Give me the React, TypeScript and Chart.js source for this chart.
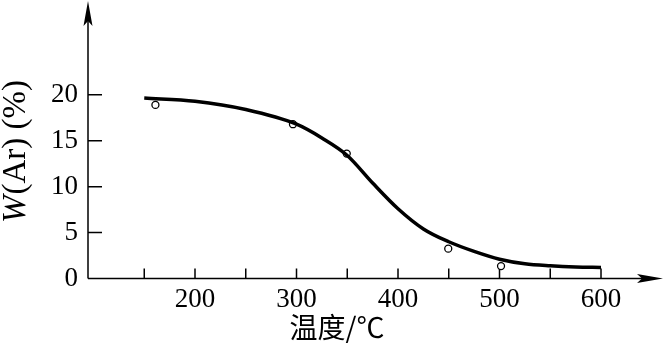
import React, { useEffect, useRef } from 'react';
import { Chart, registerables } from 'chart.js';

Chart.register(...registerables);

// Fitted curve (temperature °C -> W(Ar) %)
const curveTemps = [150, 200, 250, 300, 325, 350, 375, 400, 425, 450, 475, 500, 525, 550, 575, 600];
const curveValues = [19.65, 19.3, 18.4, 16.8, 15.3, 13.4, 10.4, 7.6, 5.4, 4.0, 2.95, 2.1, 1.6, 1.38, 1.25, 1.2];

// Measured points
const pointTemps = [161, 296.5, 349.5, 449.5, 501.5];
const pointValues = [18.9, 16.8, 13.6, 3.25, 1.35];

// Axes
const xTickValues = [150, 200, 250, 300, 350, 400, 450, 500, 550, 600];
const xLabelValues = [200, 300, 400, 500, 600];
const yTickValues = [0, 5, 10, 15, 20];
const xMin = 94.58;
const xMax = 662.06;
const yMin = 0;
const yMax = 30;

const xTitle = '温度/℃';
const yTitleItalic = 'W';
const yTitleRest = '(Ar) (%)';

const SERIF = '"Liberation Serif", "Times New Roman", serif';
const CJK = '"Noto Sans CJK SC", sans-serif';

const axesPlugin = {
  id: 'customAxes',
  beforeDatasetsDraw(chart: any) {
    const ctx = chart.ctx as CanvasRenderingContext2D;
    const xs = chart.scales.x;
    const ys = chart.scales.y;
    const ax = xs.getPixelForValue(xMin);
    const y0 = ys.getPixelForValue(0);
    const topY = chart.chartArea.top - 2;
    const rightX = chart.chartArea.right - 1;
    ctx.save();
    ctx.strokeStyle = '#000';
    ctx.fillStyle = '#000';
    ctx.lineWidth = 1.5;
    ctx.beginPath();
    ctx.moveTo(ax, y0);
    ctx.lineTo(ax, topY + 10);
    ctx.moveTo(ax, y0);
    ctx.lineTo(rightX - 10, y0);
    ctx.stroke();
    // y arrow
    ctx.beginPath();
    ctx.moveTo(ax, topY);
    ctx.lineTo(ax - 4.5, topY + 25);
    ctx.lineTo(ax, topY + 20);
    ctx.lineTo(ax + 4.5, topY + 25);
    ctx.closePath();
    ctx.fill();
    // x arrow
    ctx.beginPath();
    ctx.moveTo(rightX, y0);
    ctx.lineTo(rightX - 26, y0 - 4.5);
    ctx.lineTo(rightX - 21, y0);
    ctx.lineTo(rightX - 26, y0 + 4.5);
    ctx.closePath();
    ctx.fill();
    // inward ticks
    ctx.beginPath();
    for (const v of xTickValues) {
      const px = xs.getPixelForValue(v);
      ctx.moveTo(px, y0);
      ctx.lineTo(px, y0 - 10);
    }
    for (const v of yTickValues) {
      if (v === 0) continue;
      const py = ys.getPixelForValue(v);
      ctx.moveTo(ax, py);
      ctx.lineTo(ax + 14, py);
    }
    ctx.stroke();
    ctx.restore();
  },
  afterDraw(chart: any) {
    const ctx = chart.ctx as CanvasRenderingContext2D;
    ctx.save();
    ctx.fillStyle = '#000';
    ctx.font = `28px ${CJK}`;
    ctx.textAlign = 'center';
    ctx.textBaseline = 'middle';
    ctx.fillText(xTitle, 337, 327);
    ctx.translate(16, 152);
    ctx.rotate(-Math.PI / 2);
    ctx.textAlign = 'left';
    ctx.textBaseline = 'middle';
    const fI = `italic 33px ${SERIF}`;
    const fN = `33px ${SERIF}`;
    ctx.font = fI;
    const wI = ctx.measureText(yTitleItalic).width;
    ctx.font = fN;
    const wN = ctx.measureText(yTitleRest).width;
    const start = -(wI + wN) / 2;
    ctx.font = fI;
    ctx.fillText(yTitleItalic, start, 0);
    ctx.font = fN;
    ctx.fillText(yTitleRest, start + wI + 1, 0);
    ctx.restore();
  },
};

export default function App() {
  const ref = useRef<HTMLCanvasElement | null>(null);

  useEffect(() => {
    document.body.style.margin = '0';
    const canvas = ref.current;
    if (!canvas) return;
    const chart = new Chart(canvas, {
      type: 'line',
      data: {
        datasets: [
          {
            label: 'curve',
            data: curveTemps.map((t, i) => ({ x: t, y: curveValues[i] })),
            borderColor: '#000',
            borderWidth: 3.5,
            pointRadius: 0,
            fill: false,
            cubicInterpolationMode: 'monotone',
            order: 0,
          },
          {
            label: 'points',
            data: pointTemps.map((t, i) => ({ x: t, y: pointValues[i] })),
            showLine: false,
            pointRadius: 3.5,
            pointHoverRadius: 3.5,
            pointBorderWidth: 1.3,
            pointBackgroundColor: '#fff',
            pointBorderColor: '#000',
            borderColor: '#000',
            order: 1,
          },
        ],
      },
      options: {
        animation: false,
        responsive: false,
        devicePixelRatio: 1,
        layout: { autoPadding: false, padding: { top: 3, right: 0, bottom: 0, left: 0 } },
        plugins: {
          legend: { display: false },
          tooltip: { enabled: false },
        },
        scales: {
          x: {
            type: 'linear',
            min: xMin,
            max: xMax,
            grid: { display: false, drawTicks: false },
            border: { display: false },
            afterFit(scale: any) {
              scale.height = 66.5;
              scale.paddingLeft = 0;
              scale.paddingRight = 0;
              scale.paddingTop = 0;
              scale.paddingBottom = 0;
            },
            afterBuildTicks(scale: any) {
              scale.ticks = xTickValues.map((v) => ({ value: v }));
            },
            ticks: {
              padding: 5,
              color: '#000',
              maxRotation: 0,
              autoSkip: false,
              font: { family: SERIF, size: 27 },
              callback: (v: any) => (xLabelValues.includes(Number(v)) ? String(v) : ''),
            },
          },
          y: {
            type: 'linear',
            min: yMin,
            max: yMax,
            grid: { display: false, drawTicks: false },
            border: { display: false },
            afterFit(scale: any) {
              scale.width = 88;
              scale.paddingLeft = 0;
              scale.paddingRight = 0;
              scale.paddingTop = 0;
              scale.paddingBottom = 0;
            },
            afterBuildTicks(scale: any) {
              scale.ticks = yTickValues.map((v) => ({ value: v }));
            },
            ticks: {
              padding: 10,
              color: '#000',
              autoSkip: false,
              font: { family: SERIF, size: 27 },
              callback: (v: any) => String(v),
            },
          },
        },
      },
      plugins: [axesPlugin],
    } as any);
    return () => chart.destroy();
  }, []);

  return (
    <div style={{ width: 664, height: 345, background: '#fff' }}>
      <canvas ref={ref} width={664} height={345} style={{ display: 'block', width: 664, height: 345 }} />
    </div>
  );
}
